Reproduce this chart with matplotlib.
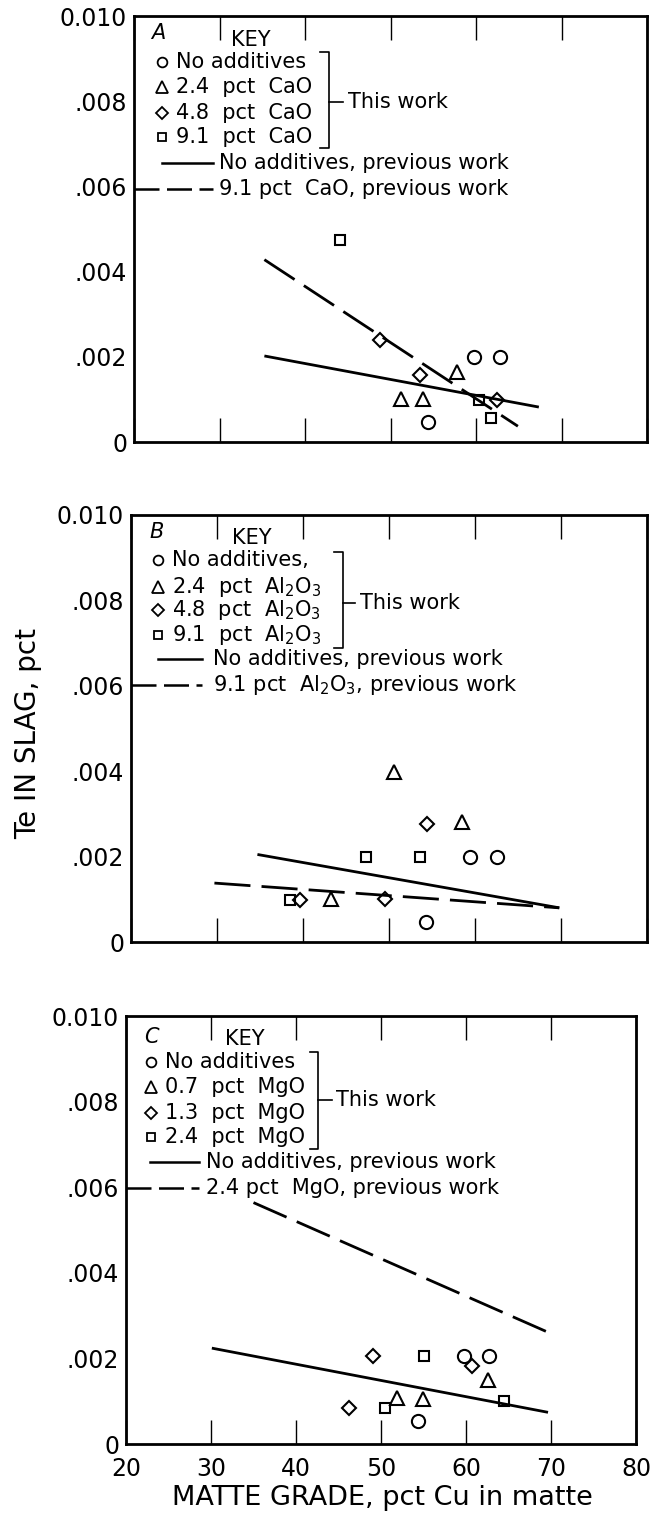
import matplotlib
matplotlib.use("Agg")
import matplotlib.pyplot as plt
from matplotlib.ticker import FixedLocator, FixedFormatter

# ---------------- data ----------------
# Panel A (CaO)
a_none_x = [59.75, 62.85, 54.4]
a_none_y = [0.00200, 0.00200, 0.00047]
a_add1_x = [51.25, 53.85, 57.75]
a_add1_y = [0.00102, 0.00102, 0.00164]
a_add2_x = [48.75, 53.5, 62.5]
a_add2_y = [0.00239, 0.00157, 0.00099]
a_add3_x = [44.1, 60.4, 61.75]
a_add3_y = [0.00474, 0.00099, 0.00056]
a_prev_none_x = [35.25, 67.35]
a_prev_none_y = [0.00202, 0.00082]
a_prev_add_x = [35.25, 64.9]
a_prev_add_y = [0.00428, 0.00037]

# Panel B (Al2O3)
b_none_x = [59.4, 62.6, 54.3]
b_none_y = [0.00198, 0.00198, 0.00047]
b_add1_x = [50.6, 58.45, 43.25]
b_add1_y = [0.00398, 0.00281, 0.00100]
b_add2_x = [54.45, 39.7, 49.5]
b_add2_y = [0.00277, 0.00099, 0.00100]
b_add3_x = [47.3, 53.6, 38.5]
b_add3_y = [0.00200, 0.00200, 0.00099]
b_prev_none_x = [34.7, 69.8]
b_prev_none_y = [0.00205, 0.00080]
b_prev_add_x = [29.7, 69.8]
b_prev_add_y = [0.00138, 0.00080]

# Panel C (MgO)
c_none_x = [59.8, 62.65, 54.4]
c_none_y = [0.00205, 0.00205, 0.00053]
c_add1_x = [51.9, 54.9, 62.55]
c_add1_y = [0.00107, 0.00105, 0.00149]
c_add2_x = [49.0, 46.2, 60.75]
c_add2_y = [0.00205, 0.00084, 0.00183]
c_add3_x = [55.1, 50.5, 64.5]
c_add3_y = [0.00205, 0.00084, 0.00100]
c_prev_none_x = [30.1, 69.65]
c_prev_none_y = [0.00224, 0.00074]
c_prev_add_x = [35.0, 70.0]
c_prev_add_y = [0.00564, 0.00258]

panel_letters = ["A", "B", "C"]
a_labels = ["No additives", "2.4  pct  CaO", "4.8  pct  CaO", "9.1  pct  CaO",
            "No additives, previous work", "9.1 pct  CaO, previous work"]
b_labels = ["No additives,", r"2.4  pct  Al$_2$O$_3$", r"4.8  pct  Al$_2$O$_3$",
            r"9.1  pct  Al$_2$O$_3$",
            "No additives, previous work", r"9.1 pct  Al$_2$O$_3$, previous work"]
c_labels = ["No additives", "0.7  pct  MgO", "1.3  pct  MgO", "2.4  pct  MgO",
            "No additives, previous work", "2.4 pct  MgO, previous work"]

x_ticks = [20, 30, 40, 50, 60, 70, 80]
x_ticklabels = ["20", "30", "40", "50", "60", "70", "80"]
y_ticks = [0, 0.002, 0.004, 0.006, 0.008, 0.010]
y_ticklabels = ["0", ".002", ".004", ".006", ".008", "0.010"]
x_label = "MATTE GRADE, pct Cu in matte"
y_label = "Te IN SLAG, pct"

# ---------------- figure ----------------
W, H = 666, 1515
fig = plt.figure(figsize=(W / 100, H / 100), dpi=100)
plt.rcParams['font.family'] = ['DejaVu Sans']

rects = [
    [134 / W, 1 - 442 / H, 513 / W, 426 / H],
    [131 / W, 1 - 942 / H, 516 / W, 427 / H],
    [126 / W, 1 - 1444 / H, 510 / W, 428 / H],
]

panels = [
    (a_none_x, a_none_y, a_add1_x, a_add1_y, a_add2_x, a_add2_y, a_add3_x, a_add3_y,
     a_prev_none_x, a_prev_none_y, a_prev_add_x, a_prev_add_y, a_labels),
    (b_none_x, b_none_y, b_add1_x, b_add1_y, b_add2_x, b_add2_y, b_add3_x, b_add3_y,
     b_prev_none_x, b_prev_none_y, b_prev_add_x, b_prev_add_y, b_labels),
    (c_none_x, c_none_y, c_add1_x, c_add1_y, c_add2_x, c_add2_y, c_add3_x, c_add3_y,
     c_prev_none_x, c_prev_none_y, c_prev_add_x, c_prev_add_y, c_labels),
]

# legend layout per panel (data coordinates)
leg = [
    dict(letter=(22.0, 0.0096), key=(31.3, 0.00944), mx=23.25, tx=24.9,
         rows=[0.00893, 0.00834, 0.00773, 0.00717], brx=42.75, brt=0.00916, brb=0.00689,
         twx=45.0, twy=0.00799, sol=(23.25, 29.25, 0.00654), das=(20.0, 29.25, 0.00595), ltx=29.9),
    dict(letter=(22.2, 0.0096), key=(31.7, 0.00945), mx=23.1, tx=24.8,
         rows=[0.00895, 0.00832, 0.00777, 0.00719], brx=44.65, brt=0.00914, brb=0.00688,
         twx=46.6, twy=0.00793, sol=(23.1, 28.2, 0.00662), das=(20.0, 28.2, 0.00602), ltx=29.5),
    dict(letter=(22.1, 0.0095), key=(31.6, 0.00946), mx=22.95, tx=24.6,
         rows=[0.00893, 0.00833, 0.00774, 0.00718], brx=42.6, brt=0.00917, brb=0.00689,
         twx=44.7, twy=0.00804, sol=(22.85, 28.6, 0.00658), das=(20.0, 28.6, 0.00598), ltx=29.4),
]

FS = 15
mk = dict(linestyle='none', markerfacecolor='none', markeredgecolor='black', markeredgewidth=1.5)
DASH = (13, 4)

for i, (rect, p, L) in enumerate(zip(rects, panels, leg)):
    (nx, ny, ax1, ay1, ax2, ay2, ax3, ay3, pnx, pny, pax, pay, labels) = p
    ax = fig.add_axes(rect)
    ax.plot(nx, ny, marker='o', markersize=9.5, **mk)
    ax.plot(ax1, ay1, marker='^', markersize=10, **mk)
    ax.plot(ax2, ay2, marker='D', markersize=7.5, **mk)
    ax.plot(ax3, ay3, marker='s', markersize=7, **mk)
    ax.plot(pnx, pny, color='black', lw=2.0, solid_capstyle='butt')
    ax.plot(pax, pay, color='black', lw=2.0, dashes=DASH)

    ax.set_xlim(20, 80)
    ax.set_ylim(0, 0.010)
    ax.xaxis.set_major_locator(FixedLocator(x_ticks))
    ax.yaxis.set_major_locator(FixedLocator(y_ticks))
    ax.yaxis.set_major_formatter(FixedFormatter(y_ticklabels))
    if i == 2:
        ax.xaxis.set_major_formatter(FixedFormatter(x_ticklabels))
        ax.tick_params(axis='x', labelbottom=True)
    else:
        ax.tick_params(axis='x', labelbottom=False)
    ax.tick_params(axis='both', direction='in', top=True, right=True, length=17,
                   width=1.0, color='black', labelsize=17, pad=5)
    ax.tick_params(axis='x', pad=9)
    for s in ax.spines.values():
        s.set_linewidth(2.0)
    # hide tick lines at the corners
    for t in ax.xaxis.get_major_ticks():
        if t.get_loc() in (20, 80):
            t.tick1line.set_visible(False)
            t.tick2line.set_visible(False)
    for t in ax.yaxis.get_major_ticks():
        if t.get_loc() in (0, 0.010):
            t.tick1line.set_visible(False)
            t.tick2line.set_visible(False)

    # panel letter and key
    ax.text(L['letter'][0], L['letter'][1], panel_letters[i], fontsize=FS,
            style='italic', ha='left', va='center')
    ax.text(L['key'][0], L['key'][1], "KEY", fontsize=FS, ha='left', va='center')
    markers = [('o', 7), ('^', 8), ('D', 6), ('s', 5.5)]
    for (m, ms), yy, lab in zip(markers, L['rows'], labels[:4]):
        ax.plot([L['mx']], [yy], marker=m, markersize=ms, linestyle='none',
                markerfacecolor='none', markeredgecolor='black', markeredgewidth=1.3)
        ax.text(L['tx'], yy, lab, fontsize=FS, ha='left', va='center')
    # bracket
    bx = L['brx']
    ax.plot([bx - 1.0, bx, bx, bx - 1.0], [L['brt'], L['brt'], L['brb'], L['brb']],
            color='black', lw=1.2)
    ax.plot([bx, L['twx'] - 0.5], [L['twy'], L['twy']], color='black', lw=1.2)
    ax.text(L['twx'], L['twy'], "This work", fontsize=FS, ha='left', va='center')
    # line samples
    s0, s1, sy = L['sol']
    ax.plot([s0, s1], [sy, sy], color='black', lw=1.8)
    ax.text(L['ltx'], sy, labels[4], fontsize=FS, ha='left', va='center')
    d0, d1, dy = L['das']
    ax.plot([d0, d1], [dy, dy], color='black', lw=1.8, dashes=(10, 3))
    ax.text(L['ltx'], dy, labels[5], fontsize=FS, ha='left', va='center')

fig.text(28 / W, 1 - 733 / H, y_label, rotation=90, fontsize=20, ha='center', va='center')
fig.text(382 / W, 1 - 1498 / H, x_label, fontsize=19.5, ha='center', va='center')

fig.savefig("out.png", dpi=100)
